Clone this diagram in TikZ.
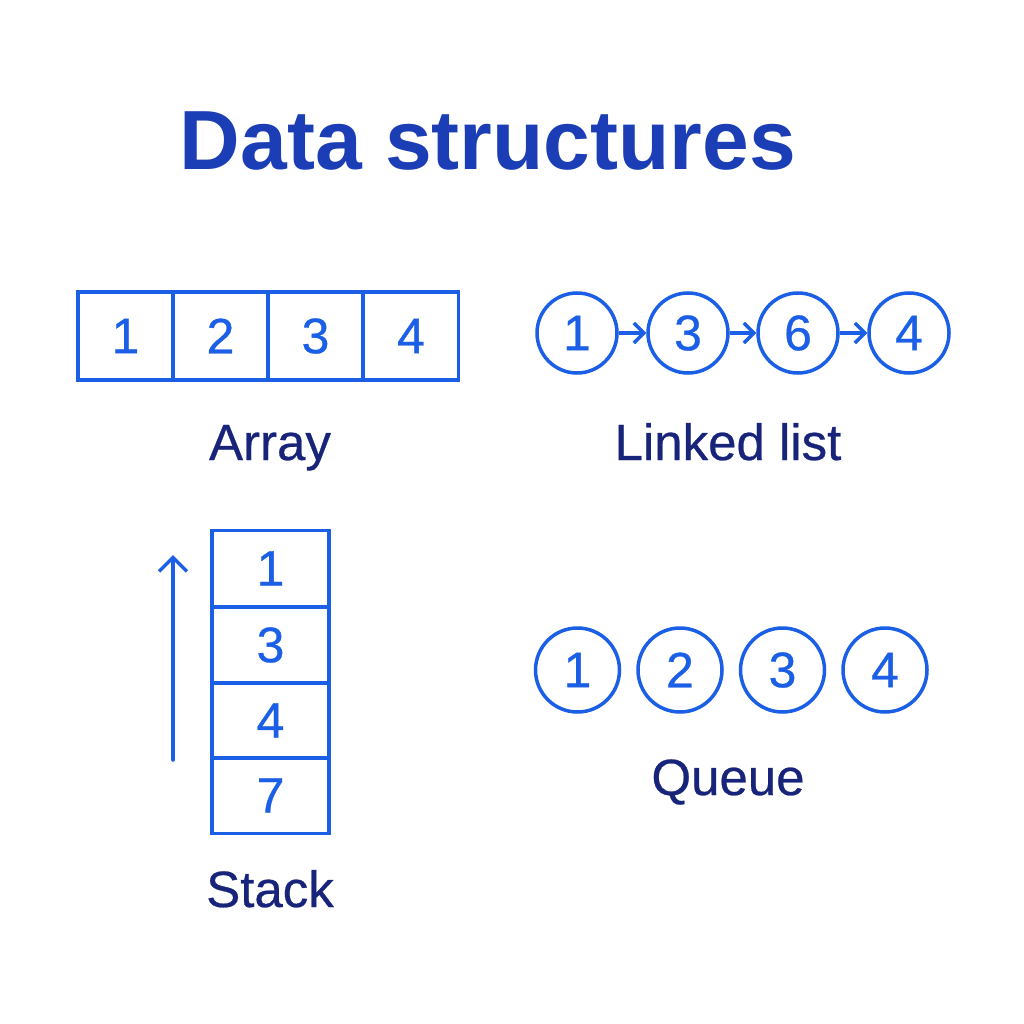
\documentclass[tikz,border=0pt]{standalone}
\usepackage{fontspec}
\setmainfont{Liberation Sans}
\usetikzlibrary{arrows.meta}
\definecolor{shapeblue}{HTML}{1A5FE6}
\definecolor{titleblue}{HTML}{1B3DB6}
\definecolor{labelnavy}{HTML}{17247A}
\newcommand{\digitfont}{\fontsize{50}{56}\selectfont\addfontfeatures{FakeBold=0.6}}
\tikzset{
  cell/.style={draw=shapeblue, line width=3.5pt, rectangle, inner sep=0pt, text=shapeblue, font=\digitfont},
  arrcell/.style={cell, minimum width=95pt, minimum height=88pt},
  stkcell/.style={cell, minimum width=117pt, minimum height=76pt},
  ball/.style={draw=shapeblue, line width=3.5pt, circle, inner sep=0pt, text=shapeblue, font=\digitfont},
  lball/.style={ball, minimum size=80pt},
  qball/.style={ball, minimum size=84pt},
  lbl/.style={text=labelnavy, inner sep=0pt, anchor=base, font=\fontsize{51}{58}\selectfont\addfontfeatures{FakeBold=0.5}},
  link/.style={draw=shapeblue, line width=3.5pt, -{Straight Barb[length=10pt,width=20pt,line width=3.5pt]}},
}
\begin{document}
\begin{tikzpicture}[x=1pt,y=-1pt]
\useasboundingbox (0,0) rectangle (1024,1024);
\fill[white] (0,0) rectangle (1024,1024);
% title
\node[text=titleblue, inner sep=0pt, anchor=base, font=\fontsize{84}{96}\selectfont\bfseries] (title) at (488,170) {Data structures};
% array
\node[arrcell] (a1) at (125.5,336) {1};
\node[arrcell] (a2) at (220.5,336) {2};
\node[arrcell] (a3) at (315.5,336) {3};
\node[arrcell] (a4) at (411,336) {4};
\node[lbl] (arraylbl) at (270,460) {Array};
% linked list
\node[lball] (l1) at (577,333) {1};
\node[lball] (l2) at (688,333) {3};
\node[lball] (l3) at (798,333) {6};
\node[lball] (l4) at (909,333) {4};
\draw[link] (l1) -- (l2);
\draw[link] (l2) -- (l3);
\draw[link] (l3) -- (l4);
\node[lbl] (linklbl) at (728,460) {Linked list};
% stack
\node[stkcell] (s1) at (270.5,568.5) {1};
\node[stkcell] (s2) at (270.5,645) {3};
\node[stkcell] (s3) at (270.5,720.5) {4};
\node[stkcell] (s4) at (270.5,795.5) {7};
\coordinate (sbot) at (173,760);
\coordinate (stop) at (173,555);
\draw[draw=shapeblue, line width=3.5pt, line cap=round, -{Straight Barb[length=14pt,width=28pt,line width=3.5pt]}] (sbot) -- (stop);
\node[lbl] (stacklbl) at (270,907) {Stack};
% queue
\node[qball] (q1) at (577.5,670) {1};
\node[qball] (q2) at (680,670) {2};
\node[qball] (q3) at (782.5,670) {3};
\node[qball] (q4) at (885,670) {4};
\node[lbl] (queuelbl) at (728,795) {Queue};
\end{tikzpicture}
\end{document}
